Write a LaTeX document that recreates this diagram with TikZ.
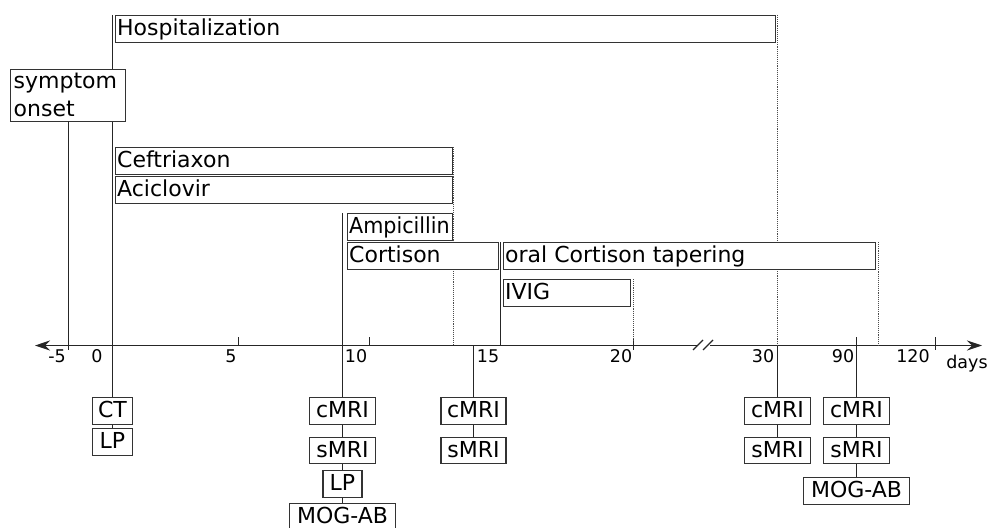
\documentclass[tikz,border=0pt]{standalone}
\usepackage{fontspec}
\setmainfont{DejaVu Sans}
\usetikzlibrary{arrows.meta}
\newcommand\bxfont{\fontsize{22}{26}\selectfont}
\newcommand\axfont{\fontsize{17.5}{20}\selectfont}
\newcommand\mybox[6]{%
  \node[box, minimum width=#4pt, minimum height=#5pt] (#1) at (#2,#3) {};
  \node[lbl] (#1-t) at ([xshift=2pt,yshift=-20.5pt]#1.north west) {#6};}
\tikzset{
  ln/.style={draw=black!85, line width=1.2pt},
  dt/.style={draw=black!70, line width=1.1pt, densely dotted},
  box/.style={draw=black!80, line width=1.1pt, fill=white, anchor=north west, inner sep=0pt},
  lbl/.style={font=\bxfont, inner sep=0pt, anchor=base west},
  tbox/.style={draw=black!80, line width=1.1pt, fill=white, anchor=north, inner sep=0pt,
    minimum height=26.5pt, font=\bxfont, text height=17pt, text depth=3pt},
  axl/.style={font=\axfont, inner sep=0pt, anchor=base},
  tip/.style={-{Stealth[length=15pt,width=10pt,inset=5pt]}}
}
\begin{document}
\begin{tikzpicture}[x=1pt,y=-1pt]
\useasboundingbox (0,0) rectangle (992,527);

% axis
\coordinate (axL) at (35,345.5);
\coordinate (axB1) at (697,345.5);
\coordinate (axB2) at (710,345.5);
\coordinate (axR) at (982,345.5);
\draw[ln, tip] (axB1) -- (axL);
\draw[ln, tip] (axB2) -- (axR);
\coordinate (s1a) at (693,350); \coordinate (s1b) at (703,340);
\coordinate (s2a) at (703,350); \coordinate (s2b) at (713,340);
\draw[ln] (s1a) -- (s1b);
\draw[ln] (s2a) -- (s2b);

% ticks
\foreach \n/\x/\a/\b in {t5/238.5/337/345, t10/369.5/337/345, t20/633.5/338/350, t120/935.5/337/350}{
  \coordinate (\n a) at (\x,\a); \coordinate (\n b) at (\x,\b);
  \draw[ln] (\n a) -- (\n b);
}

% axis labels
\node[axl] (lm5) at (57,362) {-5};
\node[axl] (l0) at (97,362) {0};
\node[axl] (l5) at (231,362) {5};
\node[axl] (l10) at (356,362) {10};
\node[axl] (l15) at (488,362) {15};
\node[axl] (l20) at (621,362) {20};
\node[axl] (l30) at (763,362) {30};
\node[axl] (l90) at (843,362) {90};
\node[axl] (l120) at (913,362) {120};
\node[axl] (ldays) at (967,368) {days};

% bottom boxes
\node[tbox, minimum width=40pt] (ct) at (112.5,397) {CT};
\node[tbox, minimum width=40pt] (lp1) at (112.5,428) {LP};
\node[tbox, minimum width=66pt] (c1) at (342.5,397) {cMRI};
\node[tbox, minimum width=66pt] (s1) at (342.5,436.5) {sMRI};
\node[tbox, minimum width=39pt] (lp2) at (342.5,470) {LP};
\node[tbox, minimum width=106pt, minimum height=25pt, text height=16.5pt, text depth=2pt] (m1) at (342.5,503) {MOG-AB};
\node[tbox, minimum width=65pt] (c2) at (473.5,397) {cMRI};
\node[tbox, minimum width=65pt] (s2) at (473.5,436.5) {sMRI};
\node[tbox, minimum width=66pt] (c3) at (777.5,397) {cMRI};
\node[tbox, minimum width=66pt] (s3) at (777.5,436.5) {sMRI};
\node[tbox, minimum width=66pt] (c4) at (856.5,397) {cMRI};
\node[tbox, minimum width=66pt] (s4) at (856.5,436.5) {sMRI};
\node[tbox, minimum width=106pt] (m2) at (856.5,477) {MOG-AB};

% vertical lines (drawn before top boxes)
\coordinate (vh) at (112.5,15);
\coordinate (vs) at (68.5,350);
\coordinate (va) at (342.5,213);
\coordinate (vc) at (500.5,242);
\coordinate (vcb) at (500.5,345);
\coordinate (v15) at (473.5,345);
\coordinate (v30) at (777.5,345);
\coordinate (v90) at (856.5,337);
\draw[ln] (vh) -- (ct.north);
\draw[ln] (ct) -- (lp1);
\draw[ln] (va) -- (c1.north);
\draw[ln] (c1) -- (s1);
\draw[ln] (s1) -- (lp2);
\draw[ln] (lp2) -- (m1);
\draw[ln] (vc) -- (vcb);
\draw[ln] (v15) -- (c2.north);
\draw[ln] (c2) -- (s2);
\draw[ln] (v30) -- (c3.north);
\draw[ln] (c3) -- (s3);
\draw[ln] (v90) -- (c4.north);
\draw[ln] (c4) -- (s4);
\draw[ln] (s4) -- (m2);

% dotted end lines
\coordinate (dh1) at (777.5,15); \coordinate (dh2) at (777.5,345);
\coordinate (da1) at (453.5,147); \coordinate (da2) at (453.5,345);
\coordinate (do1) at (878.5,242); \coordinate (do2) at (878.5,345);
\coordinate (di1) at (633.5,279); \coordinate (di2) at (633.5,340);
\draw[dt] (dh1) -- (dh2);
\draw[dt] (da1) -- (da2);
\draw[dt] (do1) -- (do2);
\draw[dt] (di1) -- (di2);

% top boxes
\mybox{hosp}{115}{15}{660}{27}{Hospitalization}
\node[box, minimum width=115.5pt, minimum height=52pt] (sym) at (9.5,69) {};
\coordinate (symbot) at (68.5,121);
\draw[ln] (symbot) -- (vs);
\node[lbl] (sym-t1) at ([xshift=4pt,yshift=-19.5pt]sym.north west) {symptom};
\node[lbl] (sym-t2) at ([xshift=4pt,yshift=-47pt]sym.north west) {onset};
\mybox{cef}{115}{147}{337}{26.5}{Ceftriaxon}
\mybox{aci}{115}{176}{337}{26.5}{Aciclovir}
\mybox{amp}{347}{213}{105}{26.5}{\addfontfeature{FakeStretch=0.94}Ampicillin}
\mybox{cor}{347}{242}{151}{26.5}{Cortison}
\mybox{ora}{503}{242}{372}{26.5}{oral Cortison tapering}
\mybox{ivi}{503}{279}{127}{26.5}{IVIG}
\end{tikzpicture}
\end{document}
